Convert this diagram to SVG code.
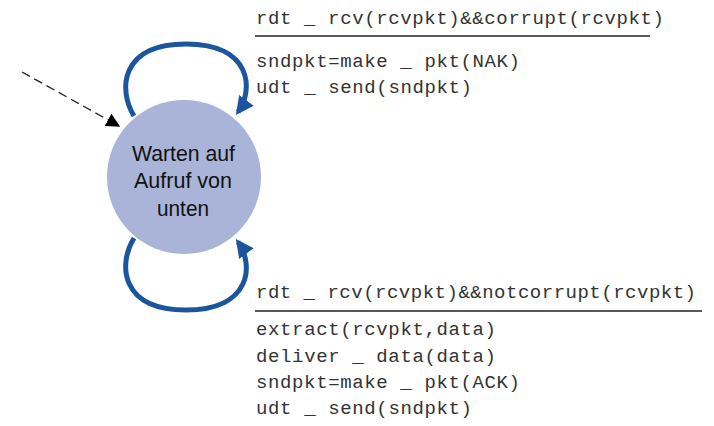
<svg xmlns="http://www.w3.org/2000/svg" width="714" height="426" viewBox="0 0 714 426">
<style>
.mono{font-family:"Liberation Mono","Courier New",monospace;font-size:19px;fill:#333}
.state{font-family:"Liberation Sans",Arial,sans-serif;font-size:22px;fill:#111}
.loop{fill:none;stroke:#1b559d;stroke-width:5}
.rule{stroke:#222;stroke-width:1.5}
</style>
<defs>
<marker id="bh" viewBox="0 0 10 10" refX="8" refY="5" markerWidth="3.6" markerHeight="3.6" markerUnits="strokeWidth" orient="auto"><path d="M0,0 L10,5 L0,10 z" fill="#1b559d"/></marker>
<marker id="kh" viewBox="0 0 10 10" refX="9" refY="5" markerWidth="14" markerHeight="14" markerUnits="userSpaceOnUse" orient="auto"><path d="M0,0 L10,5 L0,10 z" fill="#000"/></marker>
</defs>
<g id="state-warten">
<circle cx="184" cy="177" r="77" fill="#a9b4d8"/>
<text class="state" x="132" y="161" textLength="103" lengthAdjust="spacingAndGlyphs">Warten auf</text>
<text class="state" x="134" y="188" textLength="98" lengthAdjust="spacingAndGlyphs">Aufruf von</text>
<text class="state" x="157" y="216" textLength="52" lengthAdjust="spacingAndGlyphs">unten</text>
</g>
<g id="connectors">
<path class="loop" d="M134,116 C118,90 120,44 186,44 C252,44 254,90 238,112" marker-end="url(#bh)"/>
<path class="loop" d="M134,238 C118,264 120,310 186,310 C252,310 254,264 238,242" marker-end="url(#bh)"/>
<path d="M22,72 L119,126" fill="none" stroke="#222" stroke-width="1.3" stroke-dasharray="9,5" marker-end="url(#kh)"/>
</g>
<g id="label-corrupt">
<text class="mono" x="256" y="24" textLength="408" lengthAdjust="spacing">rdt _ rcv(rcvpkt)&amp;&amp;corrupt(rcvpkt)</text>
<line class="rule" x1="255" y1="36" x2="650" y2="36"/>
<text class="mono" x="256" y="67" textLength="264" lengthAdjust="spacing">sndpkt=make _ pkt(NAK)</text>
<text class="mono" x="256" y="93" textLength="216" lengthAdjust="spacing">udt _ send(sndpkt)</text>
</g>
<g id="label-notcorrupt">
<text class="mono" x="256" y="298" textLength="440" lengthAdjust="spacing">rdt _ rcv(rcvpkt)&amp;&amp;notcorrupt(rcvpkt)</text>
<line class="rule" x1="255" y1="311" x2="702" y2="311"/>
<text class="mono" x="256" y="335" textLength="240" lengthAdjust="spacing">extract(rcvpkt,data)</text>
<text class="mono" x="256" y="362" textLength="240" lengthAdjust="spacing">deliver _ data(data)</text>
<text class="mono" x="256" y="388" textLength="264" lengthAdjust="spacing">sndpkt=make _ pkt(ACK)</text>
<text class="mono" x="256" y="414" textLength="216" lengthAdjust="spacing">udt _ send(sndpkt)</text>
</g>
</svg>
